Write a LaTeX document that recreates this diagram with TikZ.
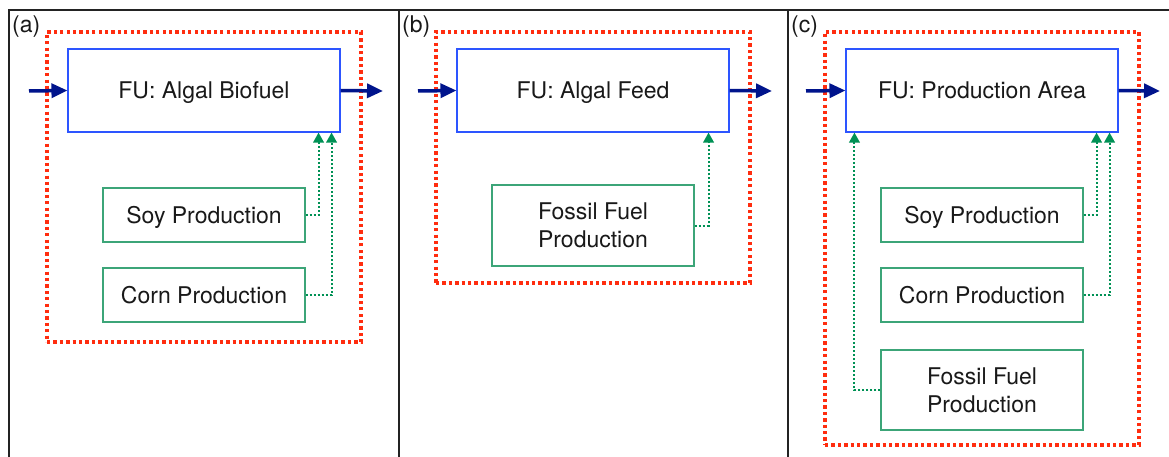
\documentclass[tikz,border=0pt]{standalone}
\usepackage{fontspec}
\setmainfont{TeX Gyre Heros}
\usetikzlibrary{arrows.meta,calc}
\definecolor{navyarr}{RGB}{0,20,140}
\definecolor{fublue}{RGB}{45,85,255}
\definecolor{srcgreen}{RGB}{60,165,120}
\definecolor{arrgreen}{RGB}{0,145,85}
\definecolor{sysred}{RGB}{255,45,15}
\definecolor{framegray}{RGB}{35,35,35}
\definecolor{txt}{RGB}{25,25,25}
\tikzset{
  txtfont/.style={font=\fontsize{23}{28}\selectfont, text=txt},
  fubox/.style={draw=fublue, line width=1.1pt, fill=white, minimum width=272pt, minimum height=83pt, txtfont, inner sep=0pt, text height=16.5pt, text depth=0pt},
  srcbox/.style={draw=srcgreen, line width=1.2pt, fill=white, minimum width=202pt, txtfont, align=center, inner sep=0pt, text height=16.5pt, text depth=0pt},
  twoline/.style={text height=44.5pt, text depth=0pt},
  sysbox/.style={draw=sysred, line width=3.3pt, dash pattern=on 3.3pt off 3.1pt, minimum width=314pt, inner sep=0pt},
  bluearr/.style={draw=navyarr, line width=3.5pt, -{Triangle[length=16pt,width=14pt]}},
  greenarr/.style={draw=arrgreen, line width=2pt, dash pattern=on 2pt off 2pt, -{Triangle[length=10pt,width=10.5pt]}},
  panellabel/.style={txtfont, anchor=west, inner sep=0pt},
  framestyle/.style={draw=framegray, line width=1.4pt}
}
\begin{document}
\begin{tikzpicture}[x=1pt,y=-1pt]
\useasboundingbox[fill=white] (0,0) rectangle (1169,457);
% frame
\coordinate (fTL) at (9,10);
\coordinate (fBL) at (9,457);
\coordinate (fTR) at (1169,10);
\coordinate (d1T) at (399,10);
\coordinate (d1B) at (399,457);
\coordinate (d2T) at (788,10);
\coordinate (d2B) at (788,457);
\draw[framestyle] (fBL) -- (fTL) -- (fTR);
\draw[framestyle] (d1T) -- (d1B);
\draw[framestyle] (d2T) -- (d2B);
% labels
\node[panellabel] (labA) at (12,27) {(a)};
\node[panellabel] (labB) at (402,27) {(b)};
\node[panellabel] (labC) at (791,27) {(c)};
% system boundaries
\node[sysbox, minimum height=310pt] (sysA) at (204,187) {};
\node[sysbox, minimum height=251pt] (sysB) at (593,157.5) {};
\node[sysbox, minimum height=413pt] (sysC) at (982,238.5) {};
% panel a
\node[fubox] (fuA) at (204,90.5) {FU: Algal Biofuel};
\node[srcbox, minimum height=54pt] (soyA) at (204,215) {Soy Production};
\node[srcbox, minimum height=54pt] (cornA) at (204,295) {Corn Production};
\coordinate (inA) at (29,91);
\coordinate (outA) at (383,91);
\draw[bluearr] (inA) -- (fuA.west);
\draw[bluearr] (fuA.east) -- (outA);
\draw[greenarr] (soyA.east) -| ([xshift=-22pt]fuA.south east);
\draw[greenarr] (cornA.east) -| ([xshift=-9pt]fuA.south east);
% panel b
\node[fubox] (fuB) at (593,90.5) {FU: Algal Feed};
\node[srcbox, twoline, minimum height=81pt] (fossilB) at (593,225.5) {Fossil Fuel\\Production};
\coordinate (inB) at (418,91);
\coordinate (outB) at (772,91);
\draw[bluearr] (inB) -- (fuB.west);
\draw[bluearr] (fuB.east) -- (outB);
\draw[greenarr] (fossilB.east) -| ([xshift=-21pt]fuB.south east);
% panel c
\node[fubox] (fuC) at (982,90.5) {FU: Production Area};
\node[srcbox, minimum height=54pt] (soyC) at (982,215) {Soy Production};
\node[srcbox, minimum height=54pt] (cornC) at (982,295) {Corn Production};
\node[srcbox, twoline, minimum height=80pt] (fossilC) at (982,390) {Fossil Fuel\\Production};
\coordinate (inC) at (806,91);
\coordinate (outC) at (1160,91);
\draw[bluearr] (inC) -- (fuC.west);
\draw[bluearr] (fuC.east) -- (outC);
\draw[greenarr] (soyC.east) -| ([xshift=-22pt]fuC.south east);
\draw[greenarr] (cornC.east) -| ([xshift=-9pt]fuC.south east);
\draw[greenarr] (fossilC.west) -| ([xshift=9pt]fuC.south west);
\end{tikzpicture}
\end{document}
